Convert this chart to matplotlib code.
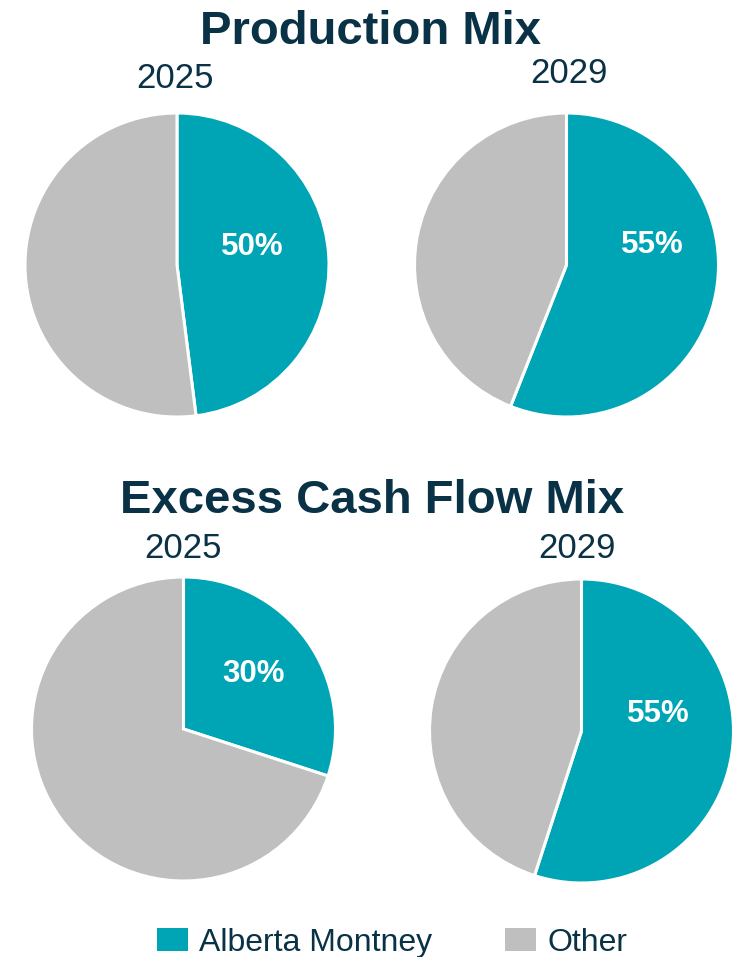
import matplotlib
matplotlib.use("Agg")
import matplotlib.pyplot as plt

plt.rcParams['font.family'] = ['Liberation Sans', 'DejaVu Sans']

# data
series_names = ['Alberta Montney', 'Other']
production_2025 = [48, 52]
production_2029 = [56, 44]
cashflow_2025 = [30, 70]
cashflow_2029 = [55, 45]
production_labels = ['50%', '55%']
cashflow_labels = ['30%', '55%']
years = ['2025', '2029']
titles = ['Production Mix', 'Excess Cash Flow Mix']

teal = '#00A5B5'
grey = '#BFBFBF'
navy = '#0A3246'

W, H = 734, 957
fig = plt.figure(figsize=(W / 100, H / 100), dpi=100)


def px_axes(cx, cy, r):
    # axes box in pixels (y from the top) -> figure fraction
    return fig.add_axes([(cx - r) / W, 1 - (cy + r) / H, 2 * r / W, 2 * r / H])


def draw_pie(cx, cy, values, label, lx, ly):
    ax = px_axes(cx, cy, 152)
    wedges, _ = ax.pie(values, colors=[teal, grey], startangle=90, counterclock=False,
                       wedgeprops=dict(edgecolor='white', linewidth=2.2))
    ax.set_xlim(-1.0, 1.0)
    ax.set_ylim(-1.0, 1.0)
    ax.set_aspect('equal')
    ax.axis('off')
    # label position in pie units
    ax.text(lx, ly, label, color='white', fontsize=22.5, fontweight='bold',
            ha='center', va='baseline')
    return wedges


def ftext(x, y, s, **kw):
    fig.text(x / W, 1 - y / H, s, color=navy, ha='center', va='baseline', **kw)


ftext(370, 44, titles[0], fontsize=34, fontweight='bold')
ftext(372, 513, titles[1], fontsize=34, fontweight='bold')
ftext(175, 88, years[0], fontsize=25)
ftext(569, 83, years[1], fontsize=25)
ftext(183, 558, years[0], fontsize=25)
ftext(577, 558, years[1], fontsize=25)

r = 152.0
wedges = draw_pie(177, 265, production_2025, production_labels[0], (252 - 177) / r, (265 - 255) / r)
draw_pie(566.5, 265, production_2029, production_labels[1], (652 - 566.5) / r, (265 - 253) / r)
draw_pie(183.5, 729, cashflow_2025, cashflow_labels[0], (254 - 183.5) / r, (729 - 682) / r)
draw_pie(581.5, 731, cashflow_2029, cashflow_labels[1], (658 - 581.5) / r, (731 - 722) / r)

leg = fig.legend(wedges, series_names, loc='lower left',
                 bbox_to_anchor=(157 / W, 1 - 958 / H), ncol=2, frameon=False,
                 fontsize=23, handlelength=0.97, handleheight=0.72,
                 handletextpad=0.34, columnspacing=2.3, borderpad=0, borderaxespad=0)
for t in leg.get_texts():
    t.set_color(navy)
for h in leg.legend_handles:
    h.set_linewidth(0)

fig.savefig('out.png', dpi=100)
